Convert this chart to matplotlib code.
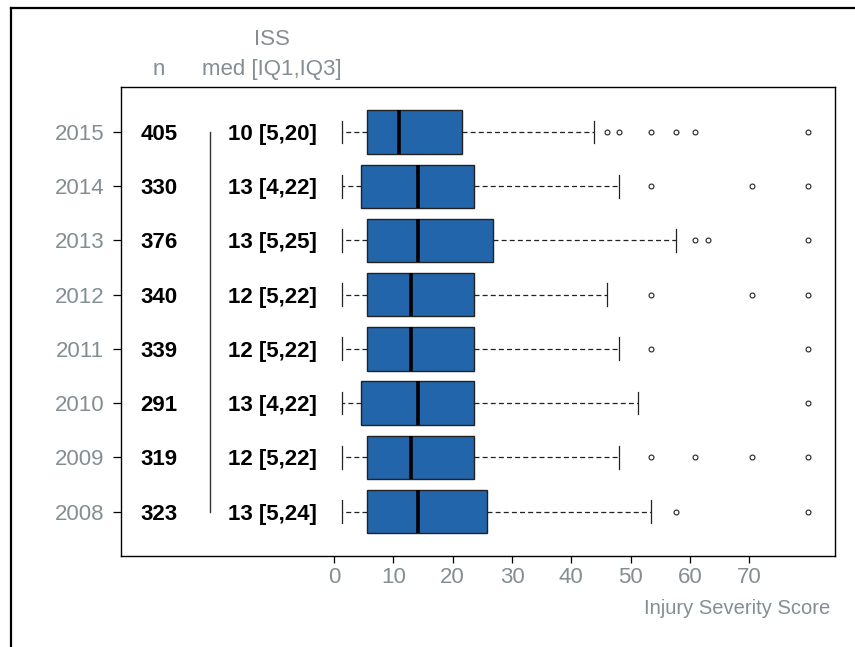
import matplotlib

matplotlib.use("Agg")
import matplotlib.pyplot as plt
from matplotlib.lines import Line2D

plt.rcParams["font.family"] = ["Liberation Sans", "DejaVu Sans"]

# Injury Severity Score per year
years = [2008, 2009, 2010, 2011, 2012, 2013, 2014, 2015]
n_cases = [323, 319, 291, 339, 340, 376, 330, 405]
whisker_lo = [1, 1, 1, 1, 1, 1, 1, 1]
q1 = [5, 5, 4, 5, 5, 5, 4, 5]
medians = [13, 12, 13, 12, 12, 13, 13, 10]
q3 = [24, 22, 22, 22, 22, 25, 22, 20]
whisker_hi = [50, 45, 48, 45, 43, 54, 45, 41]
outliers = [
    [54, 75],
    [50, 57, 66, 75],
    [75],
    [50, 75],
    [50, 66, 75],
    [57, 59, 75],
    [50, 66, 75],
    [43, 45, 50, 54, 57, 75],
]
tick_labels = [0, 10, 20, 30, 40, 50, 60, 70]

GREY = "#838e93"
BOX = "#2265ab"
# the printed axis in the original is slightly compressed vs the boxes
AXIS_SCALE, AXIS_SHIFT = 0.941, -0.27

stats = []
for i, yr in enumerate(years):
    stats.append(dict(whislo=whisker_lo[i], q1=q1[i], med=medians[i], q3=q3[i],
                      whishi=whisker_hi[i], fliers=outliers[i], label=str(yr)))

fig = plt.figure(figsize=(8.55, 6.47), dpi=100)
ax = fig.add_axes([0.1415, 0.1406, 0.835, 0.725])

pos = list(range(1, len(years) + 1))
ax.bxp(stats, positions=pos, widths=0.8, orientation="horizontal",
       patch_artist=True, capwidths=0.42,
       boxprops=dict(facecolor=BOX, edgecolor="#222222", linewidth=1.0),
       medianprops=dict(color="black", linewidth=2.6),
       whiskerprops=dict(color="#222222", linewidth=0.9, linestyle=(0, (4, 2.5))),
       capprops=dict(color="#222222", linewidth=0.9),
       flierprops=dict(marker="o", markersize=3.5, markerfacecolor="none",
                       markeredgecolor="#222222", markeredgewidth=0.8))

ax.set_xlim(-34.1, 79.2)
ax.set_ylim(0.18, 8.83)

ax.set_yticks(pos)
ax.set_yticklabels([str(y) for y in years])
ax.set_xticks([t * AXIS_SCALE + AXIS_SHIFT for t in tick_labels])
ax.set_xticklabels([str(t) for t in tick_labels])
ax.tick_params(axis="y", length=6, width=0.9, pad=6, labelsize=16, labelcolor=GREY)
ax.tick_params(axis="x", length=5, width=0.9, pad=3, labelsize=16, labelcolor=GREY)
for s in ax.spines.values():
    s.set_linewidth(1.0)

# n and median [IQR] columns inside the frame
for i, p in enumerate(pos):
    ax.text(-28.1, p, str(n_cases[i]), ha="center", va="center_baseline",
            fontsize=16, fontweight="bold")
    ax.text(-10.1, p, f"{medians[i]} [{q1[i]},{q3[i]}]", ha="center",
            va="center_baseline", fontsize=16, fontweight="bold")
ax.plot([-20, -20], [pos[0], pos[-1]], color="#333333", lw=1.0)

ax.text(-10.1, 9.75, "ISS", ha="center", va="center_baseline", fontsize=16,
        color=GREY, clip_on=False)
ax.text(-28.1, 9.2, "n", ha="center", va="center_baseline", fontsize=16,
        color=GREY, clip_on=False)
ax.text(-10.1, 9.2, "med [IQ1,IQ3]", ha="center", va="center_baseline",
        fontsize=16, color=GREY, clip_on=False)

ax.text(0.993, -0.111, "Injury Severity Score", transform=ax.transAxes,
        ha="right", va="center", fontsize=14.5, color=GREY)

# outer frame of the original screenshot (left and top edges)
fig.add_artist(Line2D([11 / 855, 11 / 855], [0, 1 - 8 / 647],
                      transform=fig.transFigure, color="black", lw=1.6))
fig.add_artist(Line2D([11 / 855, 1], [1 - 8 / 647, 1 - 8 / 647],
                      transform=fig.transFigure, color="black", lw=1.6))

fig.savefig("out.png", dpi=100)
